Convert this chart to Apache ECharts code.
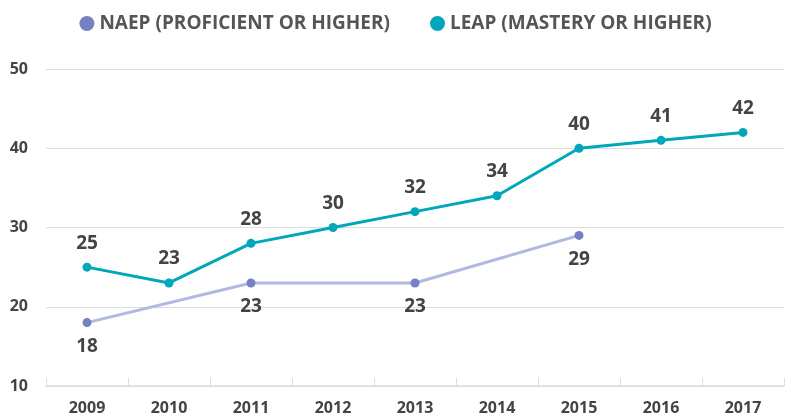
<!DOCTYPE html>
<html lang="en">
<head>
    <meta charset="UTF-8">
    <title>NAEP vs LEAP</title>
    <script src="https://cdn.jsdelivr.net/npm/echarts@6/dist/echarts.min.js"></script>
    <style>
        html, body { margin: 0; padding: 0; background: #fff; }
        #chart { width: 791px; height: 416px; }
    </style>
</head>
<body>
<div id="chart"></div>
<script>
    // data
    var years = ['2009', '2010', '2011', '2012', '2013', '2014', '2015', '2016', '2017'];
    var naep = [18, null, 23, null, 23, null, 29, null, null];
    var leap = [25, 23, 28, 30, 32, 34, 40, 41, 42];
    var yTicks = [10, 20, 30, 40, 50];

    var txt = '#444';
    var fontFam = '"Open Sans", Lato, sans-serif';

    var chart = echarts.init(document.getElementById('chart'));
    chart.setOption({
        animation: false,
        textStyle: { fontFamily: fontFam },
        legend: {
            top: 9,
            left: 'center',
            itemGap: 40,
            icon: 'circle',
            itemWidth: 15,
            itemHeight: 15,
            textStyle: { color: '#555', fontSize: 19, fontWeight: 'bold', fontFamily: fontFam }
        },
        grid: { left: 46, right: 7, top: 69, bottom: 29 },
        xAxis: {
            type: 'category',
            data: years,
            boundaryGap: true,
            axisLine: { lineStyle: { color: '#ddd', width: 1.5 } },
            axisTick: { show: true, length: 8, inside: true, lineStyle: { color: '#ddd' } },
            axisLabel: { color: txt, fontSize: 16, fontWeight: 'bold', margin: 14 }
        },
        yAxis: {
            type: 'value',
            min: yTicks[0],
            max: yTicks[yTicks.length - 1],
            interval: 10,
            axisLine: { show: false },
            axisTick: { show: false },
            splitLine: { lineStyle: { color: '#ddd', width: 1 } },
            axisLabel: { color: txt, fontSize: 16, fontWeight: 'bold', margin: 18 }
        },
        series: [{
            name: 'NAEP (PROFICIENT OR HIGHER)',
            type: 'line',
            data: naep,
            connectNulls: true,
            symbol: 'circle',
            symbolSize: 9,
            itemStyle: { color: '#7482c4' },
            lineStyle: { color: '#b2b8e0', width: 3 },
            label: {
                show: true, position: 'bottom', distance: 10,
                color: txt, fontSize: 19, fontWeight: 'bold'
            }
        }, {
            name: 'LEAP (MASTERY OR HIGHER)',
            type: 'line',
            data: leap,
            symbol: 'circle',
            symbolSize: 9,
            itemStyle: { color: '#00a7bb' },
            lineStyle: { color: '#00a7bb', width: 3 },
            label: {
                show: true, position: 'top', distance: 10,
                color: txt, fontSize: 19, fontWeight: 'bold'
            }
        }]
    });
</script>
</body>
</html>
